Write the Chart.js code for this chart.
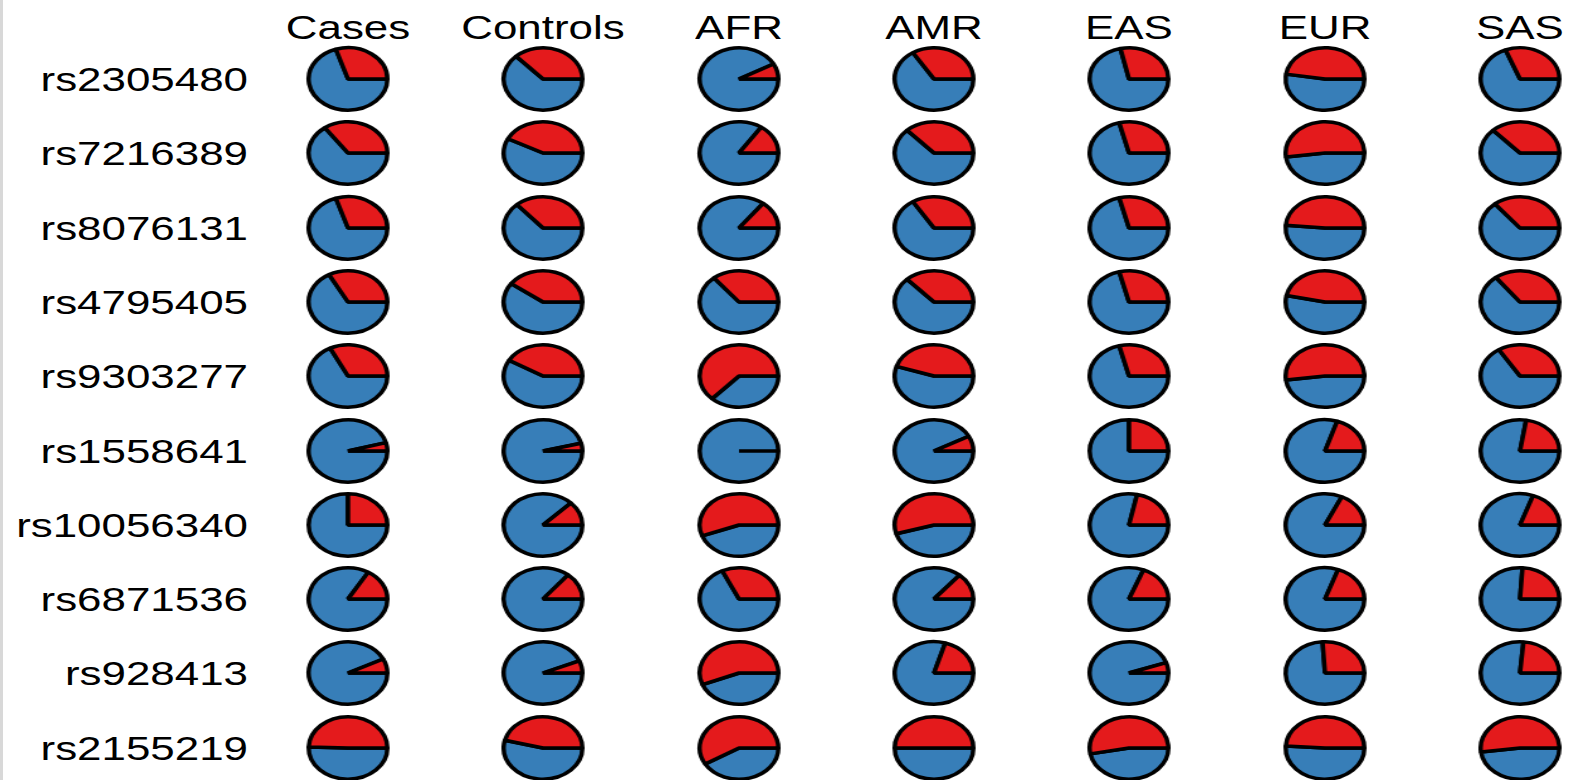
<!DOCTYPE html>
<html>
<head>
<meta charset="utf-8">
<script src="https://cdn.jsdelivr.net/npm/chart.js@4.4.1/dist/chart.umd.min.js"></script>
<style>
    html, body {
        margin: 0;
        padding: 0;
        background: #ffffff;
    }

    body {
        width: 1571px;
        height: 780px;
        position: relative;
        overflow: hidden;
        font-family: "Liberation Sans", Arial, sans-serif;
    }

    #edge {
        position: absolute;
        left: 0;
        top: 0;
        width: 3px;
        height: 780px;
        background: #d8d8d8;
    }

    .lbl {
        position: absolute;
        font-size: 33px;
        line-height: 34px;
        color: #000000;
        white-space: nowrap;
    }

    .pie {
        position: absolute;
        width: 68px;
        height: 68px;
        transform: scaleX(1.26);
    }
</style>
</head>
<body>
<div id="edge"></div>
<script>
// SNPs (rows) and groups (columns)
const snps = ["rs2305480", "rs7216389", "rs8076131", "rs4795405", "rs9303277",
    "rs1558641", "rs10056340", "rs6871536", "rs928413", "rs2155219"];
const groups = ["Cases", "Controls", "AFR", "AMR", "EAS", "EUR", "SAS"];

// share of the red allele, one value per SNP
const cases    = [0.30, 0.35, 0.30, 0.33, 0.325, 0.043, 0.25, 0.164, 0.074, 0.495];
const controls = [0.37, 0.425, 0.365, 0.40, 0.416, 0.04, 0.125, 0.14, 0.064, 0.46];
const afr      = [0.08, 0.155, 0.145, 0.36, 0.63, 0.0, 0.557, 0.32, 0.56, 0.586];
const amr      = [0.34, 0.37, 0.34, 0.37, 0.45, 0.078, 0.545, 0.138, 0.204, 0.50];
const eas      = [0.285, 0.29, 0.29, 0.29, 0.29, 0.25, 0.217, 0.19, 0.054, 0.53];
const eur      = [0.475, 0.52, 0.486, 0.467, 0.52, 0.20, 0.18, 0.196, 0.26, 0.49];
const sas      = [0.31, 0.37, 0.36, 0.355, 0.34, 0.225, 0.196, 0.24, 0.236, 0.52];

const columns = [cases, controls, afr, amr, eas, eur, sas];

const red = "#E41A1C";
const blue = "#377EB8";

const colX = (i) => 348 + i * 195.3;
const rowY = (j) => 79 + j * 74.3;

function addText(text, left, top, width, align, origin) {
    const d = document.createElement("div");
    d.className = "lbl";
    d.textContent = text;
    d.style.left = left + "px";
    d.style.top = top + "px";
    d.style.width = width + "px";
    d.style.textAlign = align;
    d.style.transform = "scaleX(1.33)";
    d.style.transformOrigin = origin;
    document.body.appendChild(d);
}

groups.forEach((g, i) => {
    addText(g, colX(i) - 100, 11, 200, "center", "center center");
});

snps.forEach((s, j) => {
    addText(s, 0, rowY(j) - 16, 248, "right", "right center");
});

columns.forEach((values, i) => {
    values.forEach((p, j) => {
        const wrap = document.createElement("div");
        wrap.className = "pie";
        wrap.style.left = (colX(i) - 34) + "px";
        wrap.style.top = (rowY(j) - 34) + "px";
        const canvas = document.createElement("canvas");
        canvas.width = 68;
        canvas.height = 68;
        wrap.appendChild(canvas);
        document.body.appendChild(wrap);

        new Chart(canvas, {
            type: "pie",
            data: {
                labels: ["other", "red"],
                datasets: [{
                    data: [1 - p, p],
                    backgroundColor: [blue, red],
                    borderColor: "#000000",
                    borderWidth: 3.5,
                    hoverOffset: 0
                }]
            },
            options: {
                responsive: false,
                animation: false,
                rotation: 90,
                events: [],
                layout: {
                    padding: 1
                },
                plugins: {
                    legend: {
                        display: false
                    },
                    tooltip: {
                        enabled: false
                    }
                }
            }
        });
    });
});
</script>
</body>
</html>
